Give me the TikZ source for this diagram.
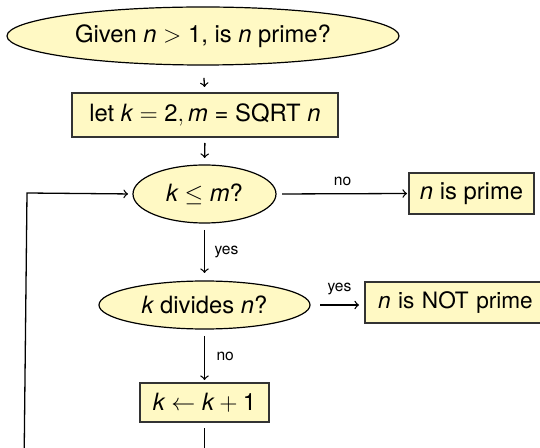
\documentclass[tikz,border=0pt]{standalone}
\usepackage{fontspec}
\setmainfont{TeX Gyre Heros}
\usetikzlibrary{shapes.geometric}
\definecolor{fillY}{RGB}{255,249,196}
\newcommand{\vv}[1]{\hbox{\itshape #1}}
\newcommand{\dd}[1]{\hbox{#1}}
\begin{document}
\begin{tikzpicture}[x=0.5pt,y=-0.5pt,
  every node/.style={font=\fontsize{11.9}{14}\selectfont, outer sep=0pt, inner sep=0pt},
  ell/.style={ellipse, draw=black, fill=fillY, line width=0.6pt},
  boxn/.style={rectangle, draw=black!80, fill=fillY, line width=0.6pt},
  lab/.style={font=\fontsize{7.8}{9}\selectfont},
  arr/.style={->, line width=0.65pt},
  ln/.style={line width=0.65pt}]
\useasboundingbox (0,0) rectangle (540,448);
\clip (0,0) rectangle (540,448);
\node[ell, minimum width=196pt, minimum height=29pt] (e1) at (203,36) {Given \vv{n} $>$ 1, is \vv{n} prime?};
\node[boxn, minimum width=133pt, minimum height=22pt] (b2) at (205,115) {let $\vv{k}=\dd{2}, \vv{m}$ = SQRT \vv{n}};
\node[ell, minimum width=71.5pt, minimum height=29pt] (e3) at (204.5,194) {$\vv{k}\leq\vv{m}$?};
\node[boxn, minimum width=62.5pt, minimum height=20.5pt] (b4) at (471.5,193.5) {\vv{n} is prime};
\node[ell, minimum width=105.5pt, minimum height=24pt] (e5) at (204.5,305) {\vv{k} divides \vv{n}?};
\node[boxn, minimum width=96pt, minimum height=20.5pt, text width=83pt, align=left, font=\fontsize{11.3}{14}\selectfont] (b6) at (461,302.5) {\vv{n} is NOT prime};
\node[boxn, minimum width=64.5pt, minimum height=19.5pt] (b7) at (204.5,402.5) {$\vv{k}\leftarrow\vv{k}+\dd{1}$};
\coordinate (c1) at (24,470);
\coordinate (c2) at (27,193);
\coordinate (c3) at (204.5,470);
% connectors
\draw[arr, shorten <=6.5pt, shorten >=3pt] (e1.south) -- (b2.north);
\draw[arr, shorten <=3pt, shorten >=3.5pt] (b2.south) -- (e3.north);
\draw[arr, shorten <=3.5pt, shorten >=4pt] (e3.south) -- node[lab, anchor=west, xshift=5pt]{yes} (e5.north);
\draw[arr, shorten <=3.5pt, shorten >=1.5pt] (e5.south) -- node[lab, anchor=west, xshift=6pt]{no} (b7.north);
\draw[arr, shorten <=3pt, shorten >=1pt] (e3.east) -- node[lab, above, yshift=4pt]{no} (b4.west);
\draw[arr, shorten <=5pt, shorten >=3pt] (e5.east) -- node[lab, above, yshift=5pt, xshift=1pt]{yes} (b6.west|-e5.east);
\draw[ln, shorten <=3pt] (b7.south) -- (c3);
\draw[arr, shorten >=2.5pt] (c1) -- (c2) -- (e3.west);
\end{tikzpicture}
\end{document}
